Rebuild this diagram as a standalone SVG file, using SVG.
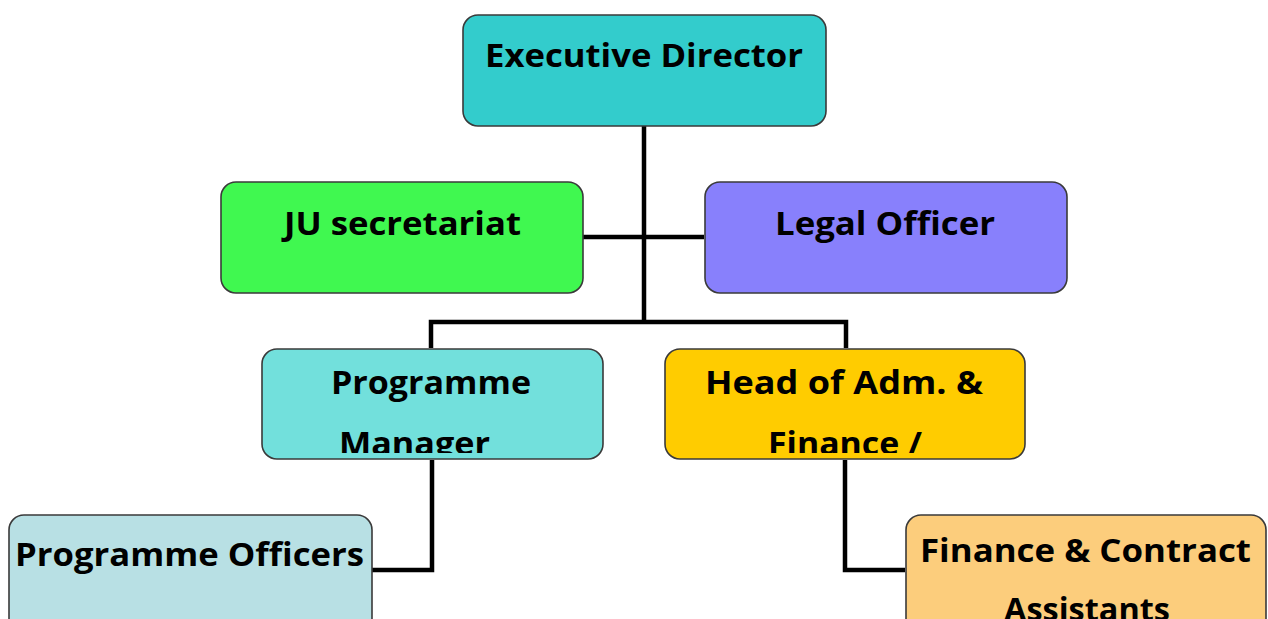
<svg xmlns="http://www.w3.org/2000/svg" width="1268" height="619" viewBox="0 0 1268 619">
<style>
.box{stroke:#3a3a3a;stroke-width:1.6}
.t{font-family:"Open Sans","Liberation Sans",sans-serif;font-weight:bold;font-size:33px;fill:#000}
.c{fill:none;stroke:#000;stroke-width:4.5;stroke-linejoin:miter}
</style>
<defs>
<clipPath id="cpPM"><rect x="262" y="349" width="341" height="104"/></clipPath>
<clipPath id="cpHA"><rect x="665" y="349" width="360" height="104"/></clipPath>
</defs>
<rect width="1268" height="619" fill="#fff"/>
<g id="connectors">
<path class="c" d="M644 126 V322"/>
<path class="c" d="M583 237 H704"/>
<path class="c" d="M431 348 V322 H846 V348"/>
<path class="c" d="M432 460 V570 H372"/>
<path class="c" d="M845 460 V570 H905"/>
</g>
<g id="executive-director">
<rect class="box" x="463" y="15" width="363" height="111" rx="15" fill="#33CCCC"/>
<text class="t" x="485" y="67" textLength="318" lengthAdjust="spacingAndGlyphs">Executive Director</text>
</g>
<g id="ju-secretariat">
<rect class="box" x="221" y="182" width="362" height="111" rx="15" fill="#40F850"/>
<text class="t" x="284" y="235" textLength="237" lengthAdjust="spacingAndGlyphs">JU secretariat</text>
</g>
<g id="legal-officer">
<rect class="box" x="705" y="182" width="362" height="111" rx="15" fill="#8880FC"/>
<text class="t" x="775" y="235" textLength="220" lengthAdjust="spacingAndGlyphs">Legal Officer</text>
</g>
<g id="programme-manager">
<rect class="box" x="262" y="349" width="341" height="110" rx="15" fill="#72E0DC"/>
<g clip-path="url(#cpPM)">
<text class="t" x="331" y="394" textLength="200" lengthAdjust="spacingAndGlyphs">Programme</text>
<text class="t" x="339" y="455" textLength="151" lengthAdjust="spacingAndGlyphs">Manager</text>
</g>
</g>
<g id="head-adm-finance">
<rect class="box" x="665" y="349" width="360" height="110" rx="15" fill="#FFCC00"/>
<g clip-path="url(#cpHA)">
<text class="t" x="705" y="394" textLength="278" lengthAdjust="spacingAndGlyphs">Head of Adm. &amp;</text>
<text class="t" x="768" y="455" textLength="154" lengthAdjust="spacingAndGlyphs">Finance /</text>
</g>
</g>
<g id="programme-officers">
<rect class="box" x="9" y="515" width="363" height="120" rx="15" fill="#B8E0E4"/>
<text class="t" x="15" y="566" textLength="349" lengthAdjust="spacingAndGlyphs">Programme Officers</text>
</g>
<g id="finance-contract-assistants">
<rect class="box" x="906" y="515" width="360" height="120" rx="15" fill="#FCCD7C"/>
<text class="t" x="920" y="562" textLength="331" lengthAdjust="spacingAndGlyphs">Finance &amp; Contract</text>
<text class="t" x="1004" y="621" textLength="166" lengthAdjust="spacingAndGlyphs">Assistants</text>
</g>
</svg>
